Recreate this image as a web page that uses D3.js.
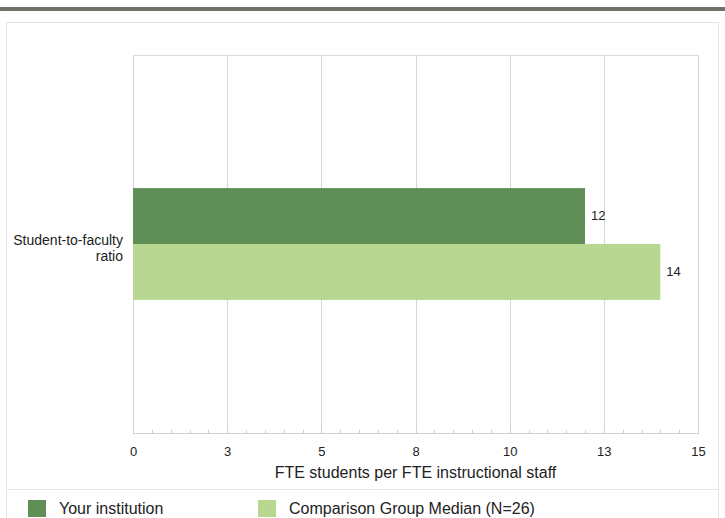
<!DOCTYPE html>
<html>
<head>
<meta charset="utf-8">
<script src="https://cdn.jsdelivr.net/npm/d3@7"></script>
<style>
  html, body { margin: 0; padding: 0; background: #ffffff; }
  svg { display: block; font-family: "Liberation Sans", Arial, sans-serif; }
</style>
</head>
<body>
<svg id="chart" width="725" height="518"></svg>
<script>
const categories = ["Student-to-faculty ratio"];
const seriesNames = ["Your institution", "Comparison Group Median (N=26)"];
const yourInstitution = [12];
const comparisonMedian = [14];
const valueLabels = [["12"], ["14"]];
const tickValues = [0, 2.5, 5, 7.5, 10, 12.5, 15];
const tickLabels = ["0", "3", "5", "8", "10", "13", "15"];
const colors = ["#5f8e57", "#b8d891"];

const svg = d3.select("#chart");
const W = 725, H = 518;
const m = { left: 133, right: 698, top: 55, bottom: 433 };

// top rule
svg.append("rect").attr("x", 0).attr("y", 7).attr("width", W).attr("height", 4).attr("fill", "#6d7368");
// panel border
svg.append("rect").attr("x", 6.5).attr("y", 22.5).attr("width", 712).attr("height", 500)
  .attr("fill", "none").attr("stroke", "#e3e3e3");
// legend separator
svg.append("line").attr("x1", 7).attr("x2", 718).attr("y1", 489.5).attr("y2", 489.5).attr("stroke", "#e6e6e6");

const x = d3.scaleLinear().domain([0, 15]).range([m.left, m.right]);
const y = d3.scaleBand().domain(categories).range([m.top, m.bottom]).paddingInner(0).paddingOuter(1.19);
const y1 = d3.scaleBand().domain([0, 1]).range([0, y.bandwidth()]).padding(0);

// plot frame
svg.append("rect").attr("x", m.left + 0.5).attr("y", m.top + 0.5)
  .attr("width", m.right - m.left).attr("height", m.bottom - m.top)
  .attr("fill", "none").attr("stroke", "#dcdcdc");

// gridlines
svg.append("g").selectAll("line").data(tickValues).join("line")
  .attr("x1", d => Math.round(x(d)) + 0.5).attr("x2", d => Math.round(x(d)) + 0.5)
  .attr("y1", m.top).attr("y2", m.bottom)
  .attr("stroke", "#d6d6d6");

// x axis
const axis = d3.axisBottom(x).tickValues(tickValues)
  .tickFormat((d, i) => tickLabels[i]).tickSize(0).tickPadding(14);
const gx = svg.append("g").attr("transform", `translate(0,${m.bottom})`).call(axis);
gx.select(".domain").attr("stroke", "#cfcfcf");
gx.selectAll("text").attr("font-size", 13).attr("fill", "#222").attr("font-family", "Liberation Sans, Arial, sans-serif");

// minor ticks
const minor = d3.range(0, 15.01, 0.5);
svg.append("g").selectAll("line").data(minor).join("line")
  .attr("x1", d => Math.round(x(d)) + 0.5).attr("x2", d => Math.round(x(d)) + 0.5)
  .attr("y1", m.bottom - 3).attr("y2", m.bottom + 1)
  .attr("stroke", "#d0d0d0");

// axis title
svg.append("text").attr("x", (m.left + m.right) / 2) .attr("y", 478)
  .attr("text-anchor", "middle").attr("font-size", 16).attr("fill", "#222")
  .text("FTE students per FTE instructional staff");

// bars
const series = [yourInstitution, comparisonMedian];
series.forEach((vals, si) => {
  svg.append("g").selectAll("rect").data(vals).join("rect")
    .attr("x", x(0))
    .attr("y", (d, i) => y(categories[i]) + y1(si))
    .attr("width", d => x(d) - x(0))
    .attr("height", y1.bandwidth())
    .attr("fill", colors[si]);
  svg.append("g").selectAll("text").data(vals).join("text")
    .attr("x", d => x(d) + 6)
    .attr("y", (d, i) => y(categories[i]) + y1(si) + y1.bandwidth() / 2 + 4)
    .attr("font-size", 13).attr("fill", "#222")
    .text((d, i) => valueLabels[si][i]);
});

// category labels
categories.forEach(c => {
  const words = ["Student-to-faculty", "ratio"];
  const cy = y(c) + y.bandwidth() / 2;
  const t = svg.append("text").attr("text-anchor", "end").attr("font-size", 14).attr("fill", "#222");
  words.forEach((w, i) => {
    t.append("tspan").attr("x", 123).attr("y", cy + 1 + i * 16).text(w);
  });
});

// legend
const legendX = [28, 258];
seriesNames.forEach((n, i) => {
  svg.append("rect").attr("x", legendX[i]).attr("y", 500).attr("width", 18).attr("height", 17).attr("fill", colors[i]);
  svg.append("text").attr("x", legendX[i] + 31).attr("y", 514).attr("font-size", 16).attr("fill", "#222").text(n);
});
</script>
</body>
</html>
